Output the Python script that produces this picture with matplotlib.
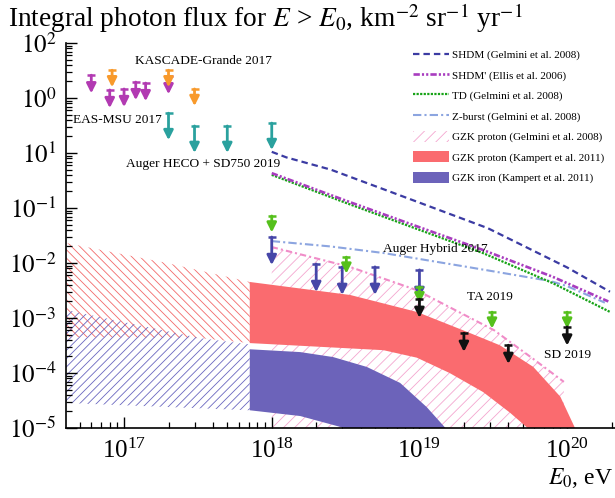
import numpy as np
import matplotlib
matplotlib.use("Agg")
import matplotlib.pyplot as plt
from matplotlib.lines import Line2D
from matplotlib.patches import Patch

plt.rcParams['font.family'] = 'serif'
plt.rcParams['font.serif'] = ['Liberation Serif', 'DejaVu Serif']
plt.rcParams['mathtext.fontset'] = 'stix'
plt.rcParams['hatch.linewidth'] = 0.6

# ---- upper limits (energy in eV, integral flux) ----
msu_e = [6.0e16, 8.0e16, 1.0e17, 1.2e17, 1.4e17, 2.0e17]
msu_f = [26.0, 14.0, 14.6, 19.5, 18.7, 25.0]

kg_e = [8.3e16, 2.0e17, 3.0e17]
kg_f = [32.0, 32.0, 14.6]

heco_e = [2.0e17, 3.0e17, 5.0e17, 1.0e18]
heco_f = [5.3, 3.1, 3.1, 3.5]

hybrid_e = [1.0e18, 2.0e18, 3.0e18, 5.0e18, 1.0e19]
hybrid_f = [0.0297, 0.0096, 0.0085, 0.0085, 0.0075]

ta_e = [1.0e18, 3.2e18, 1.0e19, 3.1e19, 1.0e20]
ta_f = [0.0716, 0.0128, 0.0037, 0.00128, 0.00128]

sd_e = [1.0e19, 2.0e19, 4.0e19, 1.0e20]
sd_f = [0.0022, 5.3e-4, 3.2e-4, 6.9e-4]

# ---- model predictions ----
shdm_e = [1.0e18, 1.26e18, 2.5e18, 6.6e18, 2.9e19, 4.5e19, 1.0e20, 1.95e20]
shdm_f = [1.05, 0.83, 0.50, 0.19, 0.043, 0.024, 0.0083, 0.0030]

shdm2_e = [1.0e18, 3.2e18, 1.0e19, 2.7e19, 8.0e19, 1.9e20]
shdm2_f = [0.43, 0.135, 0.0447, 0.0172, 0.0056, 0.0020]

td_e = [1.0e18, 3.2e18, 1.0e19, 2.7e19, 8.0e19, 1.95e20]
td_f = [0.40, 0.123, 0.040, 0.0151, 0.0043, 0.00129]

zb_e = [1.0e18, 2.5e18, 5.7e18, 2.1e19, 7.7e19, 1.0e20, 1.8e20]
zb_f = [0.025, 0.020, 0.0152, 0.0085, 0.0047, 0.0038, 0.0019]

gzk_g_e = [1.0e18, 3.4e18, 9.5e18, 3.2e19, 5.9e19, 9.5e19]
gzk_g_f = [0.0195, 0.00845, 0.00324, 6.0e-4, 1.8e-4, 6.9e-5]

# Kampert et al. 2011, proton band (hatched below 7e17 eV, filled above)
p_hatch_up_e = [4.05e16, 1.95e17, 7.1e17]
p_hatch_up_f = [0.0231, 0.010, 0.00452]
p_hatch_lo_e = [4.05e16, 3.3e17, 7.1e17]
p_hatch_lo_f = [4.5e-4, 4.3e-4, 3.5e-4]
p_up_e = [7.1e17, 3.4e18, 9.6e18, 2.1e19, 3.5e19, 5.9e19, 9.0e19, 1.13e20, 1.3e20]
p_up_f = [0.00452, 0.00262, 0.00129, 5.6e-4, 3.2e-4, 1.29e-4, 3.7e-5, 1.0e-5, 4e-6]
p_lo_e = [7.1e17, 5.7e18, 9.6e18, 1.6e19, 2.7e19, 4.1e19, 5.4e19, 6.3e19]
p_lo_f = [3.5e-4, 2.6e-4, 1.9e-4, 1.0e-4, 4.5e-5, 1.9e-5, 1.0e-5, 4e-6]

# Kampert et al. 2011, iron band
fe_hatch_up_e = [4.05e16, 3.3e17, 7.1e17]
fe_hatch_up_f = [1.4e-3, 4.3e-4, 3.3e-4]
fe_hatch_lo_e = [4.05e16, 7.1e17]
fe_hatch_lo_f = [2.85e-5, 2.1e-5]
fe_up_e = [7.1e17, 1.56e18, 2.6e18, 4.4e18, 7.4e18, 1.12e19, 1.5e19, 1.6e19]
fe_up_f = [2.7e-4, 2.4e-4, 1.95e-4, 1.29e-4, 6.6e-5, 2.4e-5, 1.0e-5, 6e-6]
fe_lo_e = [7.1e17, 1.56e18, 3.1e18, 3.5e18]
fe_lo_f = [2.1e-5, 1.65e-5, 1.0e-5, 6e-6]

ytick_vals = [1e-5, 1e-4, 1e-3, 1e-2, 1e-1, 1e0, 1e1, 1e2]
ytick_labels = ['$10^{-5}$', '$10^{-4}$', '$10^{-3}$', '$10^{-2}$', '$10^{-1}$',
                '$10^{1}$', '$10^{0}$', '$10^{2}$']

legend_labels = ['SHDM (Gelmini et al. 2008)', "SHDM' (Ellis et al. 2006)",
                 'TD (Gelmini et al. 2008)', 'Z-burst (Gelmini et al. 2008)',
                 'GZK proton (Gelmini et al. 2008)', 'GZK proton (Kampert et al. 2011)',
                 'GZK iron (Kampert et al. 2011)']


def band(ax, up_e, up_f, lo_e, lo_f, **kw):
    xs = list(up_e) + list(lo_e)[::-1]
    ys = list(up_f) + list(lo_f)[::-1]
    ax.fill(xs, ys, **kw)


def limits(ax, es, fs, color, drop):
    for e, f in zip(es, fs):
        ax.annotate('', xy=(e, f / drop), xytext=(e, f),
                    arrowprops=dict(arrowstyle='-|>,head_length=0.4,head_width=0.2',
                                    color=color, lw=2.0, shrinkA=0, shrinkB=0,
                                    mutation_scale=14), zorder=6)
        ax.plot(e, f, marker='_', ms=6, mew=1.8, color=color, zorder=6)


fig = plt.figure(figsize=(6.15, 4.98), dpi=100)
ax = fig.add_axes([66 / 615, 70 / 498, 549 / 615, 385 / 498])
ax.set_xscale('log')
ax.set_yscale('log')
ax.set_xlim(10 ** 16.607, 10 ** 20.324)
ax.set_ylim(1e-5, 1e2)

pink = '#f08cc8'
red = '#fa6b6f'
blue = '#6c63ba'

# GZK proton (Gelmini) hatched area
ax.fill(list(gzk_g_e) + [gzk_g_e[-1], gzk_g_e[0]], list(gzk_g_f) + [1e-7, 1e-7],
        facecolor='none', edgecolor='#f4a6cf', hatch='///', lw=0, zorder=1)
ax.plot(gzk_g_e, gzk_g_f, color=pink, lw=1.5, dashes=(3, 1.5, 1, 1.5), zorder=3)

# Kampert bands
band(ax, p_hatch_up_e, p_hatch_up_f, p_hatch_lo_e, p_hatch_lo_f,
     facecolor='none', edgecolor='#f26a6a', hatch='\\\\\\\\', lw=0, zorder=1)
band(ax, fe_hatch_up_e, fe_hatch_up_f, fe_hatch_lo_e, fe_hatch_lo_f,
     facecolor='none', edgecolor='#6a66c0', hatch='////', lw=0, zorder=1)
band(ax, p_up_e, p_up_f, p_lo_e, p_lo_f, facecolor=red, lw=0, zorder=2)
band(ax, fe_up_e, fe_up_f, fe_lo_e, fe_lo_f, facecolor=blue, lw=0, zorder=2)

# top-down models
ax.plot(zb_e, zb_f, color='#8ca5e0', lw=1.5, dashes=(4, 1.5, 1, 1.5), zorder=3)
ax.plot(td_e, td_f, color='#17a317', lw=1.6, dashes=(1, 0.6), zorder=3)
ax.plot(shdm2_e, shdm2_f, color='#a83cbf', lw=1.9, dashes=(2.4, 0.8, 0.8, 0.8, 0.8, 0.8), zorder=3)
ax.plot(shdm_e, shdm_f, color='#3b3ba3', lw=1.6, dashes=(2.9, 1.8), zorder=3)

# upper limits
limits(ax, msu_e, msu_f, '#b23ab2', 10 ** 0.33)
limits(ax, kg_e, kg_f, '#f89a2c', 10 ** 0.31)
limits(ax, heco_e, heco_f, '#2aa19e', 10 ** 0.49)
limits(ax, hybrid_e, hybrid_f, '#4646a8', 10 ** 0.51)
limits(ax, ta_e, ta_f, '#55c01c', 10 ** 0.30)
limits(ax, sd_e, sd_f, '#111111', 10 ** 0.34)

# labels
tfs = 9.6
ax.text(1.19e17, 47, 'KASCADE-Grande 2017', fontsize=tfs, va='center')
ax.text(4.5e16, 4.0, 'EAS-MSU 2017', fontsize=tfs, va='center')
ax.text(1.03e17, 0.63, 'Auger HECO + SD750 2019', fontsize=tfs, va='center')
ax.text(5.7e18, 0.018, 'Auger Hybrid 2017', fontsize=tfs, va='center')
ax.text(2.1e19, 0.0024, 'TA 2019', fontsize=tfs, va='center')
ax.text(7.0e19, 2.1e-4, 'SD 2019', fontsize=tfs, va='center')

# axes style
for s in ['top', 'right']:
    ax.spines[s].set_visible(False)
for s in ['left', 'bottom']:
    ax.spines[s].set_linewidth(1.2)
ax.tick_params(which='both', direction='in', top=False, right=False)
ax.tick_params(which='major', length=8, width=1.0, labelsize=18)
ax.tick_params(axis='x', which='major', pad=8)
ax.tick_params(axis='y', which='major', pad=7)
ax.tick_params(which='minor', length=4.5, width=0.9)
ax.set_yticks(ytick_vals)
ax.set_yticklabels(ytick_labels)
ax.yaxis.set_minor_locator(matplotlib.ticker.LogLocator(base=10, subs=np.arange(2, 10), numticks=20))
ax.xaxis.set_minor_locator(matplotlib.ticker.LogLocator(base=10, subs=np.arange(2, 10), numticks=20))
ax.yaxis.set_minor_formatter(matplotlib.ticker.NullFormatter())
ax.xaxis.set_minor_formatter(matplotlib.ticker.NullFormatter())

handles = [
    Line2D([], [], color='#3b3ba3', lw=1.6, dashes=(2.9, 1.8)),
    Line2D([], [], color='#a83cbf', lw=1.9, dashes=(2.4, 0.8, 0.8, 0.8, 0.8, 0.8)),
    Line2D([], [], color='#17a317', lw=1.6, dashes=(1, 0.6)),
    Line2D([], [], color='#8ca5e0', lw=1.5, dashes=(4, 1.5, 1, 1.5)),
    Patch(facecolor='none', edgecolor='#f4a6cf', hatch='///', lw=0),
    Patch(facecolor=red, lw=0),
    Patch(facecolor=blue, lw=0),
]
fig.legend(handles, legend_labels, loc='upper left', bbox_to_anchor=(413 / 615, 1 - 49 / 498),
           frameon=False, fontsize=8, handlelength=3.2, handleheight=1.1, handletextpad=0.35,
           labelspacing=0.82, borderpad=0, borderaxespad=0)

fig.text(8 / 615, 1 - 18 / 498,
         'Integral photon flux for $E$ > $E_0$, km$^{-2}$ sr$^{-1}$ yr$^{-1}$',
         fontsize=19.7, va='center', ha='left')
fig.text(548 / 615, 1 - 478 / 498, '$E_0$, eV', fontsize=17, va='center', ha='left')

fig.savefig('out.png', dpi=100)
